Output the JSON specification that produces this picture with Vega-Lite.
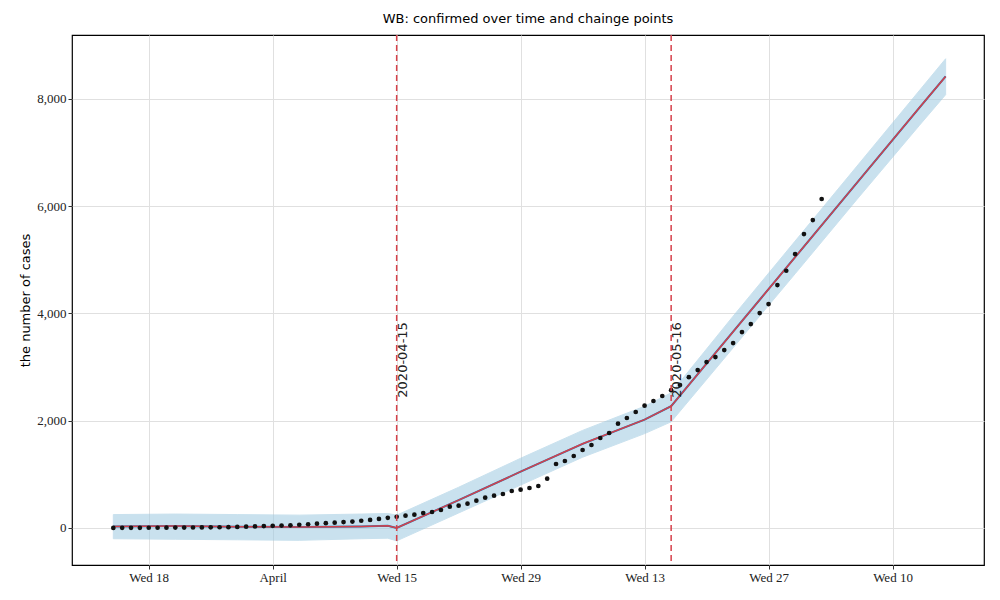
{"$schema":"https://vega.github.io/schema/vega-lite/v6.json","width":912,"height":530,"autosize":{"type":"none"},"padding":{"left":72,"top":35,"right":16,"bottom":35},"background":"white",
"config":{"view":{"stroke":"black","strokeWidth":1.2},"axis":{"labelFont":"Liberation Serif","labelFontSize":13,"labelColor":"#222","gridColor":"#e0e0e0","domain":false,"tickColor":"#333","tickSize":4,"titleFont":"DejaVu Sans","titleFontWeight":"normal","titleFontSize":13}},
"title":{"text":"WB: confirmed over time and chainge points","font":"DejaVu Sans","fontSize":13,"fontWeight":"normal","offset":8},
"datasets":{
"obs":[{"d":"2020-03-14","v":2},{"d":"2020-03-15","v":3},{"d":"2020-03-16","v":3},{"d":"2020-03-17","v":4},{"d":"2020-03-18","v":5},{"d":"2020-03-19","v":5},{"d":"2020-03-20","v":6},{"d":"2020-03-21","v":7},{"d":"2020-03-22","v":8},{"d":"2020-03-23","v":9},{"d":"2020-03-24","v":10},{"d":"2020-03-25","v":12},{"d":"2020-03-26","v":14},{"d":"2020-03-27","v":16},{"d":"2020-03-28","v":20},{"d":"2020-03-29","v":25},{"d":"2020-03-30","v":30},{"d":"2020-03-31","v":35},{"d":"2020-04-01","v":40},{"d":"2020-04-02","v":45},{"d":"2020-04-03","v":50},{"d":"2020-04-04","v":60},{"d":"2020-04-05","v":70},{"d":"2020-04-06","v":80},{"d":"2020-04-07","v":90},{"d":"2020-04-08","v":100},{"d":"2020-04-09","v":110},{"d":"2020-04-10","v":120},{"d":"2020-04-11","v":135},{"d":"2020-04-12","v":150},{"d":"2020-04-13","v":170},{"d":"2020-04-14","v":190},{"d":"2020-04-15","v":210},{"d":"2020-04-16","v":230},{"d":"2020-04-17","v":249},{"d":"2020-04-18","v":280},{"d":"2020-04-19","v":298},{"d":"2020-04-20","v":336},{"d":"2020-04-21","v":398},{"d":"2020-04-22","v":416},{"d":"2020-04-23","v":454},{"d":"2020-04-24","v":510},{"d":"2020-04-25","v":566},{"d":"2020-04-26","v":603},{"d":"2020-04-27","v":634},{"d":"2020-04-28","v":690},{"d":"2020-04-29","v":715},{"d":"2020-04-30","v":746},{"d":"2020-05-01","v":783},{"d":"2020-05-02","v":920},{"d":"2020-05-03","v":1193},{"d":"2020-05-04","v":1249},{"d":"2020-05-05","v":1342},{"d":"2020-05-06","v":1454},{"d":"2020-05-07","v":1548},{"d":"2020-05-08","v":1678},{"d":"2020-05-09","v":1771},{"d":"2020-05-10","v":1945},{"d":"2020-05-11","v":2051},{"d":"2020-05-12","v":2163},{"d":"2020-05-13","v":2281},{"d":"2020-05-14","v":2368},{"d":"2020-05-15","v":2461},{"d":"2020-05-16","v":2570},{"d":"2020-05-17","v":2666},{"d":"2020-05-18","v":2812},{"d":"2020-05-19","v":2945},{"d":"2020-05-20","v":3094},{"d":"2020-05-21","v":3187},{"d":"2020-05-22","v":3318},{"d":"2020-05-23","v":3449},{"d":"2020-05-24","v":3654},{"d":"2020-05-25","v":3803},{"d":"2020-05-26","v":4008},{"d":"2020-05-27","v":4176},{"d":"2020-05-28","v":4530},{"d":"2020-05-29","v":4797},{"d":"2020-05-30","v":5108},{"d":"2020-05-31","v":5481},{"d":"2020-06-01","v":5742},{"d":"2020-06-02","v":6135}],
"fit":[{"d":"2020-03-14","yhat":30,"lo":-200,"hi":250},{"d":"2020-03-21","yhat":35,"lo":-210,"hi":260},{"d":"2020-03-28","yhat":25,"lo":-220,"hi":250},{"d":"2020-04-04","yhat":20,"lo":-230,"hi":240},{"d":"2020-04-11","yhat":30,"lo":-200,"hi":260},{"d":"2020-04-14","yhat":40,"lo":-190,"hi":270},{"d":"2020-04-15","yhat":0,"lo":-240,"hi":240},{"d":"2020-04-22","yhat":520,"lo":280,"hi":760},{"d":"2020-04-29","yhat":1050,"lo":800,"hi":1300},{"d":"2020-05-06","yhat":1570,"lo":1320,"hi":1820},{"d":"2020-05-13","yhat":2020,"lo":1760,"hi":2270},{"d":"2020-05-16","yhat":2270,"lo":1980,"hi":2520},{"d":"2020-05-23","yhat":3660,"lo":3360,"hi":3950},{"d":"2020-05-30","yhat":5050,"lo":4740,"hi":5350},{"d":"2020-06-06","yhat":6440,"lo":6130,"hi":6750},{"d":"2020-06-13","yhat":7830,"lo":7500,"hi":8150},{"d":"2020-06-16","yhat":8420,"lo":8080,"hi":8750}],
"cp":[{"d":"2020-04-15","label":"2020-04-15","ty":2430},{"d":"2020-05-16","label":"2020-05-16","ty":2430}]},
"encoding":{"x":{"field":"d","type":"temporal","scale":{"type":"utc","domain":["2020-03-09T08:00:00Z","2020-06-20T08:00:00Z"]},"title":null,"axis":{"format":"%Y-%m-%d","formatType":"utc","values":[{"year":2020,"month":3,"date":18,"utc":true},{"year":2020,"month":4,"date":1,"utc":true},{"year":2020,"month":4,"date":15,"utc":true},{"year":2020,"month":4,"date":29,"utc":true},{"year":2020,"month":5,"date":13,"utc":true},{"year":2020,"month":5,"date":27,"utc":true},{"year":2020,"month":6,"date":10,"utc":true}]}}},
"layer":[
{"data":{"name":"fit"},"mark":{"type":"area","color":"#9ecae1","opacity":0.55,"stroke":"#9ecae1","strokeWidth":1},"encoding":{"y":{"field":"lo","type":"quantitative","scale":{"domain":[-690,9193],"nice":false},"axis":{"values":[0,2000,4000,6000,8000],"title":"the number of cases"}},"y2":{"field":"hi"}}},
{"data":{"name":"fit"},"mark":{"type":"line","color":"#1f77b4","strokeWidth":2},"encoding":{"y":{"field":"yhat","type":"quantitative"}}},
{"data":{"name":"fit"},"mark":{"type":"line","color":"#d6404a","strokeWidth":1.5},"encoding":{"y":{"field":"yhat","type":"quantitative"}}},
{"data":{"name":"obs"},"mark":{"type":"circle","color":"#111","size":22,"opacity":1},"encoding":{"y":{"field":"v","type":"quantitative"}}},
{"data":{"name":"cp"},"mark":{"type":"rule","color":"#d6404a","strokeDash":[6,4],"strokeWidth":1.5},"encoding":{}},
{"data":{"name":"cp"},"mark":{"type":"text","angle":270,"align":"left","baseline":"top","font":"DejaVu Sans","fontSize":13,"color":"#222"},"encoding":{"y":{"field":"ty","type":"quantitative"},"text":{"field":"label"}}}
]}
